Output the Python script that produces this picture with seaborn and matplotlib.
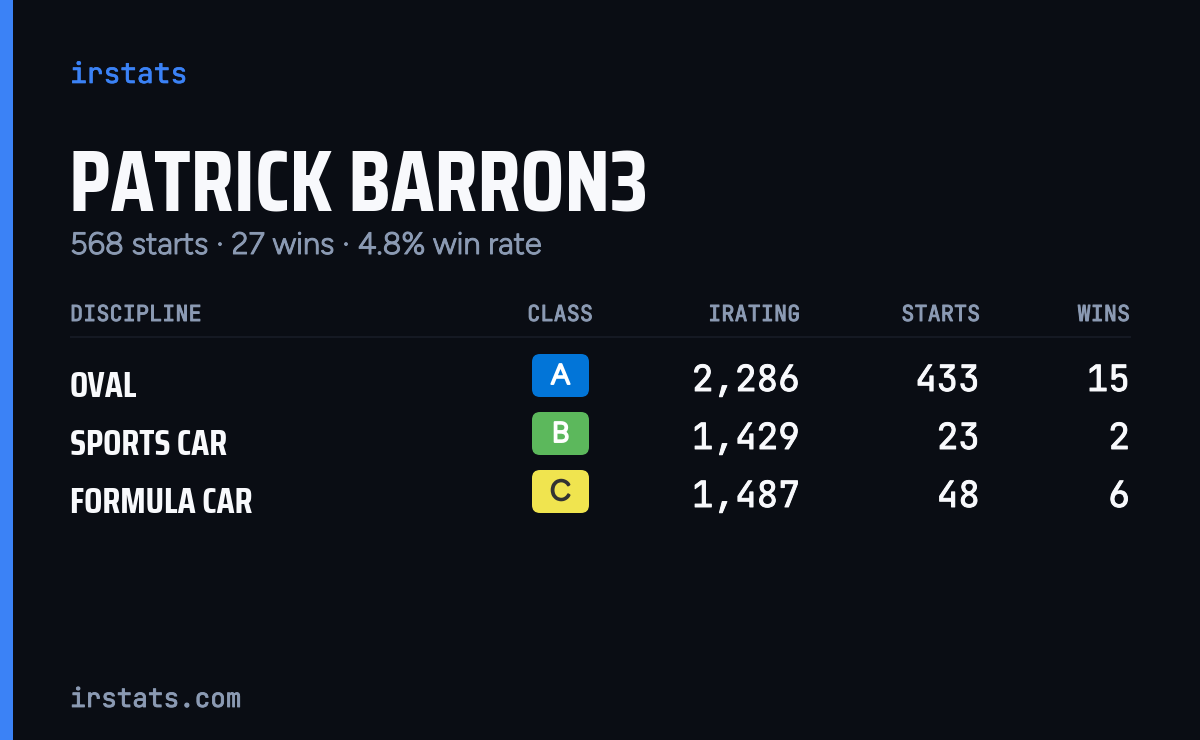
import matplotlib
matplotlib.use("Agg")
import matplotlib.pyplot as plt
import matplotlib.patheffects as pe
from matplotlib.patches import FancyBboxPatch, Rectangle
import seaborn as sns

BG = "#0a0d14"
ACCENT = "#3b82f6"
MUTED = "#8b9ab3"
WHITE = "#f8f9fc"
MONO = ["JetBrains Mono", "DejaVu Sans Mono"]
NARROW = ["Saira Condensed", "DejaVu Sans"]
SANS = ["Figtree", "Inter"]

brand = "irstats"
player = "PATRICK BARRON3"
summary = "568 starts · 27 wins · 4.8% win rate"
footer = "irstats.com"

columns = ["DISCIPLINE", "CLASS", "IRATING", "STARTS", "WINS"]
disciplines = ["OVAL", "SPORTS CAR", "FORMULA CAR"]
classes = ["A", "B", "C"]
class_colors = ["#0275d8", "#5cb85c", "#f0e44f"]
class_text = ["#ffffff", "#ffffff", "#333333"]
iratings = [2286, 1429, 1487]
starts = [433, 23, 48]
wins = [15, 2, 6]


def label(ax, x, y, text, color, family, size, stroke=0.0, **kw):
    # variable fonts load at their default weight, a thin stroke thickens them
    t = ax.text(x, y, text, color=color, family=family, fontsize=size, va="baseline", **kw)
    if stroke:
        t.set_path_effects([pe.withStroke(linewidth=stroke, foreground=color)])
    return t


def main():
    sns.set_theme(style="dark", rc={"figure.facecolor": BG, "axes.facecolor": BG})
    fig = plt.figure(figsize=(12, 7.4), dpi=100)
    ax = fig.add_axes([0, 0, 1, 1])
    ax.set_xlim(0, 1200)
    ax.set_ylim(740, 0)
    ax.axis("off")

    ax.add_patch(Rectangle((0, 0), 13, 740, color=ACCENT, lw=0))

    label(ax, 70, 83, brand, ACCENT, MONO, 20.1, stroke=0.5)
    label(ax, 69, 212, player, WHITE, NARROW, 62.9, weight="bold")
    label(ax, 70, 254, summary, MUTED, SANS, 22.2, stroke=0.7)
    label(ax, 70, 707, footer, MUTED, MONO, 18.7, stroke=0.6)

    # header row
    label(ax, 70, 321, columns[0], MUTED, MONO, 15.8, stroke=0.7)
    label(ax, 560, 321, columns[1], MUTED, MONO, 15.8, stroke=0.7, ha="center")
    for name, x in zip(columns[2:], [800, 980, 1130]):
        label(ax, x, 321, name, MUTED, MONO, 15.8, stroke=0.7, ha="right")
    ax.plot([70, 1131], [337, 337], color="#151923", lw=1.5, solid_capstyle="butt")

    for i, name in enumerate(disciplines):
        step = i * 58
        label(ax, 70, 397 + step, name, WHITE, NARROW, 26, weight="bold")
        ax.add_patch(FancyBboxPatch((532, 354 + step), 57, 43, boxstyle="round,pad=0,rounding_size=8",
                                    fc=class_colors[i], lw=0))
        label(ax, 560.5, 384 + step, classes[i], class_text[i], SANS, 20.5, stroke=1.4, ha="center")
        label(ax, 800, 391 + step, f"{iratings[i]:,}", WHITE, MONO, 25.9, stroke=0.7, ha="right")
        label(ax, 980, 391 + step, str(starts[i]), WHITE, MONO, 25.9, stroke=0.7, ha="right")
        label(ax, 1130, 391 + step, str(wins[i]), WHITE, MONO, 25.9, stroke=0.7, ha="right")

    fig.savefig("out.png", dpi=100, facecolor=BG)
    plt.close(fig)


if __name__ == "__main__":
    main()
